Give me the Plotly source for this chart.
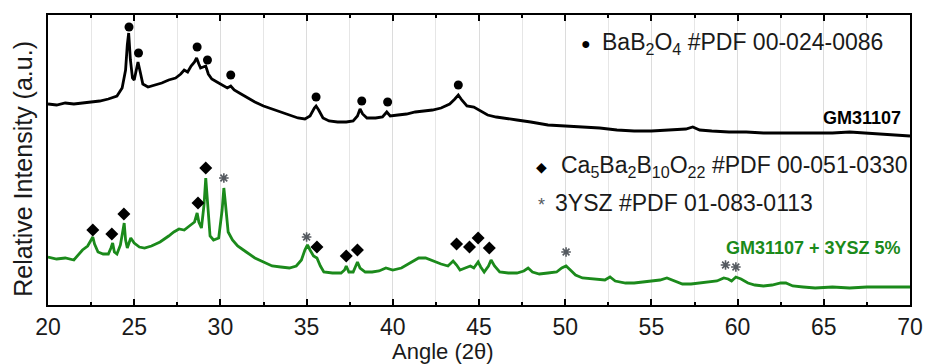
import plotly.graph_objects as go

# ---------------- data ----------------
# y values are relative intensity in arbitrary units
angle_gm = [20.0, 20.5, 21.0, 21.5, 22.0, 22.5, 23.0, 23.5, 24.0, 24.3, 24.5, 24.6, 24.68, 24.78, 24.9,
            25.0, 25.1, 25.22, 25.35, 25.5, 25.8, 26.2, 26.6, 27.0, 27.4, 27.7, 27.9, 28.1, 28.3, 28.5,
            28.62, 28.75, 28.85, 29.0, 29.15, 29.3, 29.5, 29.8, 30.1, 30.4, 30.6, 30.8, 31.1, 31.5, 32.0,
            32.5, 33.0, 33.5, 34.0, 34.5, 34.9, 35.2, 35.45, 35.55, 35.7, 35.95, 36.3, 36.8, 37.3, 37.7,
            37.95, 38.1, 38.25, 38.5, 39.0, 39.4, 39.65, 39.85, 40.3, 40.8, 41.3, 41.8, 42.3, 42.8, 43.3,
            43.6, 43.8, 44.0, 44.3, 44.7, 45.0, 45.5, 46.0, 46.5, 47.2, 48.0, 49.0, 50.0, 51.0, 52.0,
            53.0, 54.0, 55.0, 56.0, 57.0, 57.4, 57.8, 58.5, 59.5, 60.5, 61.5, 62.5, 63.5, 64.5, 65.5,
            66.5, 67.5, 68.5, 69.5, 70.0]
pix_gm = [104, 105, 103, 104, 103, 102, 101, 99, 96, 88, 70, 45, 33, 60, 78,
          80, 70, 62, 72, 84, 87, 85, 83, 80, 78, 74, 70, 72, 66, 62,
          58, 64, 68, 67, 66, 74, 79, 82, 85, 88, 86, 90, 93, 97, 102,
          106, 109, 112, 115, 118, 119, 116, 108, 106, 110, 118, 121, 122, 122, 121,
          116, 109, 114, 118, 118, 117, 112, 116, 115, 114, 112, 111, 110, 108, 104,
          99, 95, 100, 106, 107, 110, 115, 117, 118, 120, 122, 125, 126, 127, 128,
          130, 131, 131, 130, 129, 127, 130, 131, 132, 132, 133, 133, 133, 133, 133,
          132, 133, 134, 135, 136]
intensity_gm = [305 - v for v in pix_gm]

angle_ysz = [20.0, 20.5, 21.0, 21.5, 22.0, 22.3, 22.5, 22.6, 22.7, 22.9, 23.2, 23.5, 23.65, 23.75, 23.85,
             24.0, 24.2, 24.35, 24.42, 24.5, 24.6, 24.8, 25.0, 25.3, 25.6, 26.0, 26.5, 27.0, 27.3, 27.6,
             27.9, 28.2, 28.5, 28.65, 28.75, 28.9, 29.05, 29.15, 29.25, 29.4, 29.6, 29.9, 30.1, 30.2, 30.3,
             30.45, 30.7, 31.0, 31.5, 32.0, 32.5, 33.0, 33.5, 34.0, 34.4, 34.7, 34.9, 35.05, 35.2, 35.4,
             35.6, 35.8, 36.0, 36.5, 37.0, 37.2, 37.3, 37.45, 37.7, 37.85, 37.95, 38.1, 38.4, 38.8, 39.2,
             39.6, 40.0, 40.5, 41.0, 41.5, 41.9, 42.3, 42.8, 43.2, 43.5, 43.7, 43.9, 44.2, 44.5, 44.7,
             44.95, 45.1, 45.3, 45.55, 45.7, 45.9, 46.2, 46.7, 47.2, 47.6, 47.85, 48.1, 48.5, 49.0, 49.5,
             49.8, 50.05, 50.3, 50.6, 51.0, 51.5, 52.0, 52.3, 52.6, 52.9, 53.5, 54.0, 54.5, 55.0, 55.5,
             55.9, 56.3, 56.8, 57.3, 57.8, 58.3, 58.8, 59.2, 59.45, 59.65, 59.9, 60.2, 60.6, 61.0, 61.5,
             62.0, 62.5, 62.8, 63.2, 63.8, 64.5, 65.5, 66.5, 67.5, 68.5, 69.5, 70.0]
pix_ysz = [257, 259, 258, 260, 250, 246, 240, 237, 244, 252, 254, 254, 248, 243, 252,
           254, 245, 230, 223, 240, 248, 238, 243, 247, 248, 246, 242, 236, 232, 229,
           230, 226, 222, 213, 222, 228, 205, 178, 205, 236, 240, 238, 210, 188, 205,
           232, 240, 246, 252, 258, 262, 266, 267, 268, 266, 260, 250, 245, 250, 256,
           258, 266, 272, 273, 273, 270, 266, 272, 272, 266, 262, 268, 272, 272, 271,
           268, 270, 268, 263, 258, 258, 261, 264, 266, 261, 265, 270, 268, 266, 268,
           262, 267, 272, 266, 260, 266, 272, 273, 273, 271, 268, 272, 274, 273, 272,
           268, 266, 270, 275, 278, 279, 280, 280, 277, 281, 283, 283, 282, 281, 280,
           278, 281, 284, 284, 283, 282, 281, 278, 279, 281, 277, 279, 283, 285, 286,
           285, 283, 283, 286, 287, 288, 287, 288, 287, 287, 287, 287]
intensity_ysz = [305 - v for v in pix_ysz]

# phase markers (angle, marker height)
bab2o4_angle = [24.7, 25.25, 28.65, 29.25, 30.6, 35.55, 38.2, 39.7, 43.8]
bab2o4_level = [305 - v for v in [27, 53, 47, 60, 75, 97, 101, 102, 85]]

cabab_angle = [22.6, 23.7, 24.4, 28.7, 29.15, 35.6, 37.3, 37.95, 43.7, 44.45, 44.95, 45.6]
cabab_level = [305 - v for v in [230, 234, 214, 203, 168, 247, 256, 250, 244, 247, 238, 248]]

ysz_angle = [30.2, 35.0, 50.05, 59.3, 59.9]
ysz_level = [305 - v for v in [178, 237, 252, 265, 267]]

x_ticks = [20, 25, 30, 35, 40, 45, 50, 55, 60, 65, 70]

GREEN = "#1b8a1b"
FONT = "Arial, Liberation Sans, Helvetica, sans-serif"

fig = go.Figure()
fig.add_trace(go.Scatter(x=angle_gm, y=intensity_gm, mode="lines",
                         line=dict(color="black", width=2.8), showlegend=False))
fig.add_trace(go.Scatter(x=angle_ysz, y=intensity_ysz, mode="lines",
                         line=dict(color=GREEN, width=2.8), showlegend=False))
fig.add_trace(go.Scatter(x=bab2o4_angle, y=bab2o4_level, mode="markers",
                         marker=dict(symbol="circle", size=9, color="black"), showlegend=False))
fig.add_trace(go.Scatter(x=cabab_angle, y=cabab_level, mode="markers",
                         marker=dict(symbol="diamond", size=10, color="black"), showlegend=False))
fig.add_trace(go.Scatter(x=ysz_angle, y=ysz_level, mode="markers",
                         marker=dict(symbol="asterisk-open", size=8, color="#555a60",
                                     line=dict(color="#555a60", width=1.6)), showlegend=False))

annots = [
    dict(x=0.624, y=0.903, text="●", font=dict(size=16, color="black"), xanchor="center", yanchor="middle"),
    dict(x=0.640, y=0.903, text="BaB<sub>2</sub>O<sub>4</sub> #PDF 00-024-0086",
         font=dict(size=23, color="#1a1a1a"), xanchor="left", yanchor="middle"),
    dict(x=0.573, y=0.476, text="◆", font=dict(size=14, color="black"), xanchor="center", yanchor="middle"),
    dict(x=0.593, y=0.476, text="Ca<sub>5</sub>Ba<sub>2</sub>B<sub>10</sub>O<sub>22</sub> #PDF 00-051-0330",
         font=dict(size=23, color="#1a1a1a"), xanchor="left", yanchor="middle"),
    dict(x=0.573, y=0.345, text="*", font=dict(size=18, color="#555a60"), xanchor="center", yanchor="middle"),
    dict(x=0.586, y=0.352, text="3YSZ #PDF 01-083-0113",
         font=dict(size=23, color="#1a1a1a"), xanchor="left", yanchor="middle"),
    dict(x=0.992, y=0.645, text="<b>GM31107</b>", font=dict(size=18, color="black"),
         xanchor="right", yanchor="middle"),
    dict(x=0.992, y=0.197, text="<b>GM31107 + 3YSZ 5%</b>", font=dict(size=18, color=GREEN),
         xanchor="right", yanchor="middle"),
    dict(x=-0.029, y=0.47, text="Relative Intensity (a.u.)", textangle=-90,
         font=dict(size=25, color="#1a1a1a"), xanchor="center", yanchor="middle"),
    dict(x=0.458, y=-0.162, text="Angle (2θ)", font=dict(size=22, color="#1a1a1a"),
         xanchor="center", yanchor="middle"),
]
for a in annots:
    a.update(xref="paper", yref="paper", showarrow=False)

fig.update_layout(
    width=925, height=364,
    margin=dict(l=48, r=15, t=15, b=59, autoexpand=False),
    paper_bgcolor="white", plot_bgcolor="white",
    font=dict(family=FONT, color="#1a1a1a"),
    annotations=annots,
    xaxis=dict(range=[20, 70], tickvals=x_ticks, ticktext=[str(t) for t in x_ticks],
               automargin=False,
               ticks="inside", ticklen=6, tickwidth=1.5, tickcolor="black",
               showline=True, linecolor="black", linewidth=1.8, mirror="ticks",
               showgrid=True, gridcolor="#dcdcdc", gridwidth=1,
               tickfont=dict(size=23, color="#1a1a1a"),
               minor=dict(dtick=2.5, tick0=20, ticks="inside", ticklen=3, tickcolor="black",
                          showgrid=True, gridcolor="#e6e6e6"),
               zeroline=False),
    yaxis=dict(range=[0, 290], showticklabels=False, ticks="", showgrid=False, zeroline=False,
               automargin=False,
               showline=True, linecolor="black", linewidth=1.8, mirror=True),
)

fig.write_html("out.html", config={"displayModeBar": False},
               post_script="document.body.style.margin='0';document.body.style.padding='0';")
